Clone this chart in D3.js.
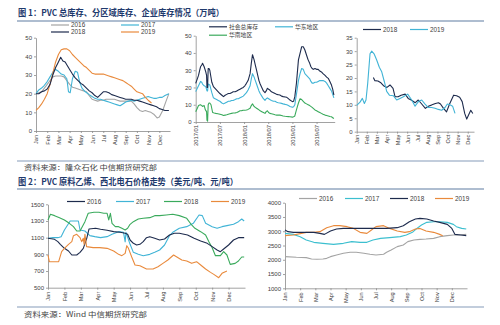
<!DOCTYPE html>
<html><head><meta charset="utf-8">
<script src="https://cdn.jsdelivr.net/npm/d3@7"></script>
<style>
html,body{margin:0;padding:0;background:#fff;}
svg{display:block;}
.ax path,.ax line{stroke:#8a8a8a;stroke-width:0.8;}
.ax text{fill:#404040;font-family:"Liberation Sans",Arial,sans-serif;}
</style></head><body>
<script>
// ---------------- DATA ----------------
const MONTHS = ['Jan','Feb','Mar','Apr','May','Jun','Jul','Aug','Sep','Oct','Nov','Dec'];
const TITLE1 = '图 1：PVC 总库存、分区域库存、企业库存情况（万吨）';
const TITLE2 = '图 2：PVC 原料乙烯、西北电石价格走势（美元/吨、元/吨）';
const SOURCE1 = '资料来源：隆众石化 中信期货研究部';
const SOURCE2 = '资料来源：Wind 中信期货研究部';

// Panel 1: total PVC inventory by year, [month position, 万吨]
const inv2016 = [[0,20],[0.25,20.5],[0.5,21],[0.75,23],[1,25],[1.25,27],[1.5,29],[1.75,29.5],[2,29.5],[2.25,29.5],[2.5,29],[2.75,27],[3,25],[3.25,23.5],[3.5,23],[3.75,22.5],[4,22],[4.25,21.5],[4.5,21],[4.75,19],[5,17],[5.25,16.5],[5.5,16],[5.75,16.5],[6,16.5],[6.25,17],[6.5,17],[6.75,17],[7,17],[7.25,16.5],[7.5,16],[7.75,16],[8,16],[8.25,16],[8.5,16],[8.75,14.5],[9,12.5],[9.25,11],[9.5,10.5],[9.75,11],[10,10.5],[10.25,10],[10.5,9],[10.8,7],[11,7.5],[11.3,11],[11.6,16],[11.85,20]];
const inv2017 = [[0,20],[0.25,22],[0.5,23],[0.75,24.5],[1,26.5],[1.25,29],[1.5,31.5],[1.75,33],[2,32],[2.25,30.5],[2.5,30],[2.75,28],[2.9,21],[3.05,20.5],[3.25,28],[3.5,32],[3.7,31.5],[3.9,26],[4.1,23],[4.4,21],[4.75,19.5],[5,18.5],[5.25,17.5],[5.5,17],[5.75,17],[6,16.5],[6.25,16],[6.5,15.5],[6.75,15],[7,14.5],[7.25,14],[7.5,13.5],[7.75,14.5],[8,15.5],[8.25,16],[8.5,16.5],[8.75,16],[9,16.5],[9.25,17],[9.5,17.5],[9.75,18],[10,18.5],[10.25,18],[10.5,17.5],[10.75,17.5],[11,18],[11.25,18],[11.5,19],[11.85,20]];
const inv2018 = [[0,20],[0.25,20],[0.5,21],[0.75,21.5],[1,22.5],[1.25,25],[1.5,30],[1.75,34],[2,37],[2.2,39.5],[2.4,37.5],[2.6,37],[2.8,35],[3,33],[3.25,30.5],[3.5,28.5],[3.75,27],[4,25.5],[4.25,24.5],[4.5,23],[4.75,21.5],[5,20.5],[5.25,19],[5.5,18],[5.75,19.5],[6,21],[6.25,21],[6.5,20.5],[6.75,19.5],[7,19],[7.25,18.5],[7.5,18],[7.75,17.5],[8,17],[8.25,17],[8.5,17],[8.75,16.5],[9,16.5],[9.25,16],[9.5,15.5],[9.75,15],[10,14.5],[10.25,14],[10.5,13.5],[10.75,13],[11,12],[11.25,11.5],[11.5,11],[11.85,11]];
const inv2019 = [[0,11],[0.25,12.5],[0.5,14.5],[0.75,17],[1,20],[1.25,25],[1.5,31],[1.75,37],[2,41],[2.25,43.5],[2.5,44],[2.75,44],[3,43],[3.25,41],[3.5,39.5],[3.75,38],[4,36.5],[4.25,35],[4.5,34],[4.75,32.5],[5,31],[5.25,30.5],[5.5,30.5],[5.75,30.5],[6,30.5],[6.25,30],[6.5,29.5],[6.75,29],[7,28.5],[7.25,28],[7.5,27.5],[7.75,27],[8,26],[8.25,25],[8.5,24],[8.75,22.5],[9,21],[9.25,20.5],[9.5,20],[9.75,18],[10,16.5],[10.3,15]];

// Panel 2: regional inventory, [months since 2017/01, 万吨]
const P2_TICKS = [0,6,12,18,24,30];
const P2_LABELS = ['2017/01','2017/07','2018/01','2018/07','2019/01','2019/07'];
const socialTotal = [[0,22.4],[0.4,25],[0.7,27],[1.0,30],[1.2,32],[1.5,33],[1.7,34],[2.1,32],[2.5,29],[2.7,27],[2.8,20],[2.95,20],[3.1,31],[3.3,31],[3.5,30],[4.0,23],[4.4,20.5],[4.8,19.5],[5.2,18.5],[5.6,17.5],[6,16.5],[6.5,15.5],[6.9,14.7],[7.3,15.5],[7.7,16],[8.1,16.5],[8.5,16.5],[8.9,17],[9.3,17.5],[9.8,17.5],[10.2,18],[10.6,18.5],[11,19],[11.4,19.5],[11.8,20],[12.2,21],[12.6,22.4],[13.0,24],[13.5,28],[13.8,34],[14.1,39],[14.5,36],[14.8,33],[15.1,30],[15.4,27],[15.7,24],[16.0,22],[16.4,20],[16.8,18],[17.2,17],[17.5,18],[17.8,19.5],[18.1,19],[18.4,18.5],[18.8,17.5],[19.3,17],[19.7,16.5],[20.1,16],[20.5,15.8],[20.9,15.6],[21.3,15],[21.7,14.7],[22.2,14.5],[22.6,14.3],[23.0,13.5],[23.4,12.7],[24,11.8],[24.3,12],[24.6,14.7],[25,22.4],[25.5,36],[25.9,39.8],[26.3,43.6],[26.7,43.6],[27.1,41.7],[27.5,38.8],[27.9,36],[28.3,34],[28.6,32],[28.9,31],[29.2,30.5],[29.6,31],[30.0,30.5],[30.4,30.5],[30.8,29.5],[31.2,29],[31.6,28],[32.1,27],[32.5,26],[32.9,25.3],[33.3,23.5],[33.7,21.4],[34.0,19],[34.3,15.6]];
const eastChina = [[0,17.6],[0.4,19.5],[0.7,21],[1.0,22.5],[1.2,23.5],[1.5,23],[1.7,22],[2.1,21],[2.5,20.5],[2.8,18],[2.95,18],[3.1,22],[3.5,21.5],[4.0,17],[4.4,14],[4.8,13.5],[5.2,13],[5.6,12.5],[6,12],[6.5,11],[6.9,10.5],[7.3,11],[7.7,11.5],[8.1,12],[8.5,12],[8.9,12.5],[9.3,12.5],[9.8,13],[10.2,13.5],[10.6,13.5],[11,14],[11.4,14.5],[11.8,15],[12.2,16],[12.6,17],[13.0,18.5],[13.5,21],[13.8,25],[14.1,28],[14.5,26],[14.8,24],[15.1,22],[15.4,20],[15.7,18],[16.0,16.5],[16.4,15],[16.8,13.5],[17.2,12.5],[17.5,13.5],[17.8,14],[18.1,13.5],[18.4,13],[18.8,12.5],[19.3,12],[19.7,12],[20.1,11.5],[20.5,11.2],[20.9,11],[21.3,10.8],[21.7,10.5],[22.2,10.2],[22.6,10],[23.0,9.5],[23.4,9],[24,8.5],[24.3,8.8],[24.6,10],[25,16],[25.5,24],[25.9,28],[26.3,31],[26.7,30.5],[27.1,28],[27.5,27],[27.9,26],[28.3,25],[28.6,23.5],[28.9,22.5],[29.2,22.5],[29.6,23],[30.0,23],[30.4,23.5],[30.8,24],[31.2,24],[31.6,24],[32.1,23.5],[32.5,22.5],[32.9,21],[33.3,19.5],[33.7,18],[34.0,16],[34.3,14]];
const southChina = [[0,6],[0.4,8],[0.7,9.5],[1.0,9.8],[1.2,10],[1.5,9.5],[1.7,9],[2.1,9.5],[2.4,7],[2.7,6],[2.8,1],[2.95,0.5],[3.1,10],[3.3,11],[3.5,11],[3.8,10],[4.2,5.5],[4.6,5.2],[5,5],[5.5,4.8],[6,4.5],[6.5,4.2],[6.9,3.8],[7.3,4],[7.7,4.2],[8.1,4.5],[8.5,4.8],[8.9,5],[9.3,5.2],[9.8,5.3],[10.2,5.5],[10.6,6],[11,6.5],[11.4,6.6],[11.8,6.8],[12.2,6.8],[12.6,7],[13.0,7.3],[13.5,8],[13.8,9.5],[14.1,10.5],[14.5,9],[14.8,8.5],[15.1,8],[15.4,7.5],[15.7,7],[16.0,6.5],[16.4,6],[16.8,5.5],[17.2,5],[17.5,6],[17.8,6.5],[18.1,5.5],[18.4,5],[18.8,4.8],[19.3,4.5],[19.7,4.2],[20.1,4],[20.5,4],[20.9,4],[21.3,3.8],[21.7,3.5],[22.2,3.3],[22.6,3.2],[23.0,3.1],[23.4,3],[24,2.8],[24.3,3],[24.6,3.5],[25,7],[25.5,11],[25.9,13.5],[26.3,13],[26.7,12],[27.1,11],[27.5,10.5],[27.9,10],[28.3,9.5],[28.9,8.5],[29.6,7],[30.0,6.5],[30.4,6],[30.8,5.5],[31.2,5],[31.6,4.5],[32.1,4],[32.5,3.8],[32.9,3.5],[33.3,3.2],[33.7,3],[34.0,2.5],[34.3,2]];

// Panel 3: enterprise inventory, [month position, 万吨]
const ent2018 = [[1.65,20.2],[1.8,19],[2.1,18.9],[2.4,18.2],[2.7,17],[3.0,16.5],[3.3,17.4],[3.6,16.1],[3.8,13],[4.1,13],[4.4,13.6],[4.8,14],[5.1,12.4],[5.4,11.8],[5.8,10.8],[6.1,11.8],[6.4,10.5],[6.8,8.7],[7.1,9.5],[7.4,9.9],[7.8,10.5],[8.1,10.8],[8.3,10.3],[8.6,8.7],[8.9,7.4],[9.2,10.3],[9.6,13.6],[9.9,13.4],[10.2,12.8],[10.45,11.2],[10.7,6.8],[10.9,4.7],[11.15,6.8],[11.3,8],[11.5,6.8]];
const ent2019 = [[0,9.8],[0.33,11],[0.56,12.4],[0.76,10.5],[0.92,11.8],[1.09,18],[1.32,29],[1.49,30],[1.72,29],[1.98,26.7],[2.24,24],[2.48,22.3],[2.74,18.6],[2.97,15],[3.24,13.6],[3.63,13.4],[3.96,11.8],[4.29,12.4],[4.62,13],[5.05,14],[5.45,11.8],[5.78,9.5],[6.11,11.2],[6.44,11.8],[6.77,10.3],[7.1,9],[7.43,9],[7.76,8.7],[8.09,8.3],[8.42,8],[8.75,9],[8.98,10.3],[9.24,10],[9.5,9.5],[9.74,6.8]];

// Panel 4: ethylene price (USD/t), [month position, value]
const eth2016 = [[0,1092],[0.4,1080],[0.6,1052],[0.75,1020],[1.0,972],[1.25,940],[1.45,892],[1.75,892],[1.95,924],[2.15,972],[2.36,1092],[2.5,1204],[2.9,1212],[3.2,1200],[3.6,1188],[4.0,1172],[4.4,1164],[4.7,1152],[4.85,1140],[5.0,1072],[5.2,1032],[5.4,1012],[5.6,1020],[5.8,1052],[6.0,1100],[6.2,1112],[6.5,1092],[6.8,1072],[7.1,1084],[7.4,1132],[7.7,1152],[8.0,1152],[8.5,1132],[8.9,1092],[9.3,1060],[9.7,1032],[10.0,992],[10.3,952],[10.5,932],[10.7,964],[11.0,1012],[11.3,1072],[11.6,1100],[11.95,1100]];
const eth2017 = [[0,1092],[0.3,1100],[0.6,1100],[0.8,1112],[1.0,1192],[1.35,1300],[1.65,1300],[1.85,1300],[1.95,1192],[2.25,1180],[2.55,1124],[2.85,1112],[3.2,1100],[3.6,1112],[3.9,1140],[4.3,1172],[4.6,1164],[4.7,1050],[4.75,1164],[5.0,1020],[5.2,924],[5.5,900],[5.8,884],[6.2,900],[6.5,924],[6.8,952],[7.1,1012],[7.4,1124],[7.6,1164],[8.0,1212],[8.45,1232],[8.85,1272],[9.2,1372],[9.4,1364],[9.6,1272],[10.0,1232],[10.3,1212],[10.6,1232],[10.9,1244],[11.3,1260],[11.6,1292],[11.8,1324],[11.95,1300]];
const eth2018 = [[0,1312],[0.15,1380],[0.4,1364],[0.7,1340],[1.0,1312],[1.3,1272],[1.55,1232],[1.75,1180],[1.95,1180],[2.25,1292],[2.45,1392],[2.8,1404],[3.1,1404],[3.4,1392],[3.6,1392],[3.7,1312],[3.8,1392],[3.9,1272],[4.1,1232],[4.3,1232],[4.5,1212],[4.7,1192],[4.85,1212],[5.0,1260],[5.2,1292],[5.5,1324],[5.8,1332],[6.2,1340],[6.5,1364],[6.8,1364],[7.2,1372],[7.6,1380],[8.0,1364],[8.45,1332],[8.75,1252],[8.95,1212],[9.3,1172],[9.6,1132],[9.8,1052],[10.0,980],[10.2,884],[10.5,884],[10.7,932],[10.9,892],[11.1,780],[11.4,792],[11.6,820],[11.8,868],[11.95,868]];
const eth2019 = [[0,892],[0.08,812],[0.43,812],[0.65,812],[0.83,932],[1.0,972],[1.25,1020],[1.45,1052],[1.55,1124],[1.75,1140],[1.95,1100],[2.05,1052],[2.15,1092],[2.2,1020],[2.25,1140],[2.35,992],[2.75,980],[3.15,980],[3.6,972],[4.0,940],[4.3,900],[4.5,884],[4.7,912],[4.8,1004],[4.9,972],[5.1,868],[5.3,772],[5.6,764],[6.0,724],[6.4,724],[6.7,752],[7.0,792],[7.3,832],[7.65,892],[7.85,868],[8.15,832],[8.45,820],[8.75,792],[9.05,812],[9.3,772],[9.6,724],[9.9,684],[10.1,660],[10.4,620],[10.6,672],[10.8,692],[10.9,700]];

// Panel 5: NW calcium carbide price (CNY/t), [month position, value]
const cc2016 = [[0,2110],[0.75,2086],[1.4,2075],[1.75,2028],[2.1,2016],[2.5,2028],[2.75,2050],[3.0,2110],[3.4,2168],[3.85,2226],[4.3,2261],[4.7,2261],[5.2,2226],[5.6,2191],[6.0,2168],[6.5,2191],[6.7,2261],[7.0,2343],[7.4,2460],[7.8,2518],[8.1,2635],[8.5,2693],[8.9,2716],[9.3,2728],[9.8,2750],[10.2,2810],[10.7,2845],[11.1,2868],[11.5,2868],[11.95,2890]];
const cc2017 = [[0,2926],[0.55,2890],[1.0,2810],[1.4,2693],[1.9,2611],[2.5,2576],[3.2,2541],[3.85,2576],[4.4,2635],[4.95,2611],[5.4,2611],[5.8,2693],[6.3,2751],[6.9,2775],[7.6,2810],[8.0,2868],[8.4,2961],[8.7,3100],[9.0,3218],[9.35,3311],[9.8,3335],[10.2,3335],[10.7,3311],[11.1,3241],[11.3,3160],[11.65,3100],[11.95,3078]];
const cc2018 = [[0,3043],[0.2,2985],[0.55,2961],[1.0,2961],[1.4,2961],[1.9,2961],[2.3,2926],[2.6,2890],[3.0,3008],[3.4,3078],[3.85,3100],[4.3,3100],[4.7,3100],[5.4,3100],[6.0,3100],[6.7,3100],[7.4,3125],[7.8,3195],[8.2,3335],[8.6,3428],[8.9,3451],[9.35,3428],[9.8,3358],[10.2,3311],[10.7,3241],[11.0,3100],[11.2,2890],[11.6,2868],[11.95,2845]];
const cc2019 = [[0,2845],[0.55,2868],[1.0,2915],[1.4,2961],[1.9,2961],[2.3,2985],[2.75,3125],[3.2,3195],[3.6,3195],[4.1,3160],[4.5,3100],[4.95,2961],[5.4,2926],[5.7,3043],[6.0,3160],[6.5,3195],[6.9,3100],[7.4,3008],[7.9,2961],[8.2,2985],[8.6,3078],[8.9,3100],[9.3,3008],[9.8,2961],[10.2,2890],[10.4,2845]];

// ---------------- DRAW ----------------
const C = {navy:'#1d2b4d', cyan:'#41b4d6', green:'#3aaa5c', orange:'#e98a3c', gray:'#a4a4a4', teal:'#3cbfcf', rule:'#aebdd0'};
const FONT_CJK = '"Noto Sans CJK SC","Noto Sans",sans-serif';
const FONT_LAT = '"Liberation Sans",Arial,sans-serif';

const svg = d3.select('body').append('svg').attr('width',500).attr('height',325);

// rules
[[21,2],[161,1.5],[189,2],[307,1.5]].forEach(([yy,w])=>{
  svg.append('line').attr('x1',17).attr('x2',484).attr('y1',yy).attr('y2',yy)
    .attr('stroke',C.rule).attr('stroke-width',w);
});

function txt(s,x,y,size,color,len,weight){
  const t = svg.append('text').attr('x',x).attr('y',y).text(s)
    .attr('font-family',FONT_CJK).attr('font-size',size).attr('fill',color)
    .attr('font-weight',weight||400);
  if(len) t.attr('textLength',len).attr('lengthAdjust','spacingAndGlyphs');
  return t;
}
txt(TITLE1,18,16,8.6,'#1f3a6d',206,700);
txt(TITLE2,18,184.5,8.6,'#1f3a6d',220,700);
txt(SOURCE1,24,170,7.2,'#444',133);
txt(SOURCE2,24,317,7.2,'#444',123);

function panel(cfg){
  const x = d3.scaleLinear().domain(cfg.xd).range(cfg.xr);
  const y = d3.scaleLinear().domain(cfg.yd).range(cfg.yr);
  const ya = svg.append('g').attr('class','ax').attr('transform',`translate(${cfg.xr[0]},0)`)
    .call(d3.axisLeft(y).tickValues(cfg.yt).tickFormat(d3.format('d')).tickSize(2).tickSizeOuter(0).tickPadding(2));
  ya.selectAll('text').attr('font-size',6);
  const xa = svg.append('g').attr('class','ax').attr('transform',`translate(0,${cfg.yr[0]})`)
    .call(d3.axisBottom(x).tickValues(cfg.xt).tickSize(2).tickSizeOuter(0).tickFormat((d,i)=>cfg.xl[i]));
  xa.selectAll('text').attr('font-size',cfg.xfs||5.6)
    .attr('transform','rotate(-90)').attr('text-anchor','end')
    .attr('x',-(cfg.lab||3)).attr('y',0).attr('dy','0.35em');
  const line = d3.line().x(d=>x(d[0])).y(d=>y(d[1]));
  cfg.series.forEach(s=>{
    svg.append('path').datum(s.data).attr('d',line).attr('fill','none')
      .attr('stroke',s.color).attr('stroke-width',1.1).attr('stroke-linejoin','round');
  });
  cfg.legend.forEach(l=>{
    svg.append('line').attr('x1',l.x).attr('x2',l.x+18).attr('y1',l.y).attr('y2',l.y)
      .attr('stroke',l.color).attr('stroke-width',1.2);
    const cjk = !/\d/.test(l.name);
    svg.append('text').attr('x',l.x+20).attr('y',l.y).attr('dy','0.35em').text(l.name)
      .attr('font-family',cjk?FONT_CJK:FONT_LAT).attr('font-size',cjk?5.8:6.4).attr('fill','#404040');
  });
}

const mIdx = d3.range(12);

panel({xd:[0,11.95], xr:[36,170], yd:[0,50], yr:[131,37.7], yt:[0,10,20,30,40,50],
  xt:mIdx, xl:MONTHS, lab:4,
  series:[{data:inv2016,color:C.gray},{data:inv2017,color:C.cyan},{data:inv2019,color:C.orange},{data:inv2018,color:C.navy}],
  legend:[{x:51,y:25,name:'2016',color:C.gray},{x:121,y:25,name:'2017',color:C.cyan},
          {x:51,y:32,name:'2018',color:C.navy},{x:121,y:32,name:'2019',color:C.orange}]});

panel({xd:[0,34.5], xr:[195.7,334.7], yd:[0,50], yr:[122,35.7], yt:[0,10,20,30,40,50],
  xt:P2_TICKS, xl:P2_LABELS, xfs:5.8, lab:3,
  series:[{data:southChina,color:C.green},{data:eastChina,color:C.cyan},{data:socialTotal,color:C.navy}],
  legend:[{x:209,y:26.8,name:'社会总库存',color:C.navy},{x:275,y:26.8,name:'华东地区',color:C.cyan},
          {x:209,y:35.2,name:'华南地区',color:C.green}]});

panel({xd:[0,11.62], xr:[356.7,474], yd:[0,35], yr:[131.7,37.7], yt:[0,5,10,15,20,25,30,35],
  xt:mIdx, xl:MONTHS, lab:3,
  series:[{data:ent2018,color:C.navy},{data:ent2019,color:C.cyan}],
  legend:[{x:363,y:29.5,name:'2018',color:C.navy},{x:410,y:29.5,name:'2019',color:C.cyan}]});

panel({xd:[0,12], xr:[48,245], yd:[500,1500], yr:[287.7,204.3], yt:[500,700,900,1100,1300,1500],
  xt:mIdx, xl:MONTHS, lab:4,
  series:[{data:eth2017,color:C.cyan},{data:eth2018,color:C.green},{data:eth2016,color:C.navy},{data:eth2019,color:C.orange}],
  legend:[{x:67,y:201.5,name:'2016',color:C.navy},{x:116,y:201.5,name:'2017',color:C.cyan},
          {x:164,y:201.5,name:'2018',color:C.green},{x:211,y:201.5,name:'2019',color:C.orange}]});

panel({xd:[0,12], xr:[285,467], yd:[1000,4000], yr:[288.3,202.7], yt:[1000,1500,2000,2500,3000,3500,4000],
  xt:mIdx, xl:MONTHS, lab:4,
  series:[{data:cc2016,color:C.gray},{data:cc2017,color:C.teal},{data:cc2019,color:C.orange},{data:cc2018,color:C.navy}],
  legend:[{x:299,y:198.5,name:'2016',color:C.gray},{x:345,y:198.5,name:'2017',color:C.teal},
          {x:390,y:198.5,name:'2018',color:C.navy},{x:435,y:198.5,name:'2019',color:C.orange}]});
</script>
</body></html>
